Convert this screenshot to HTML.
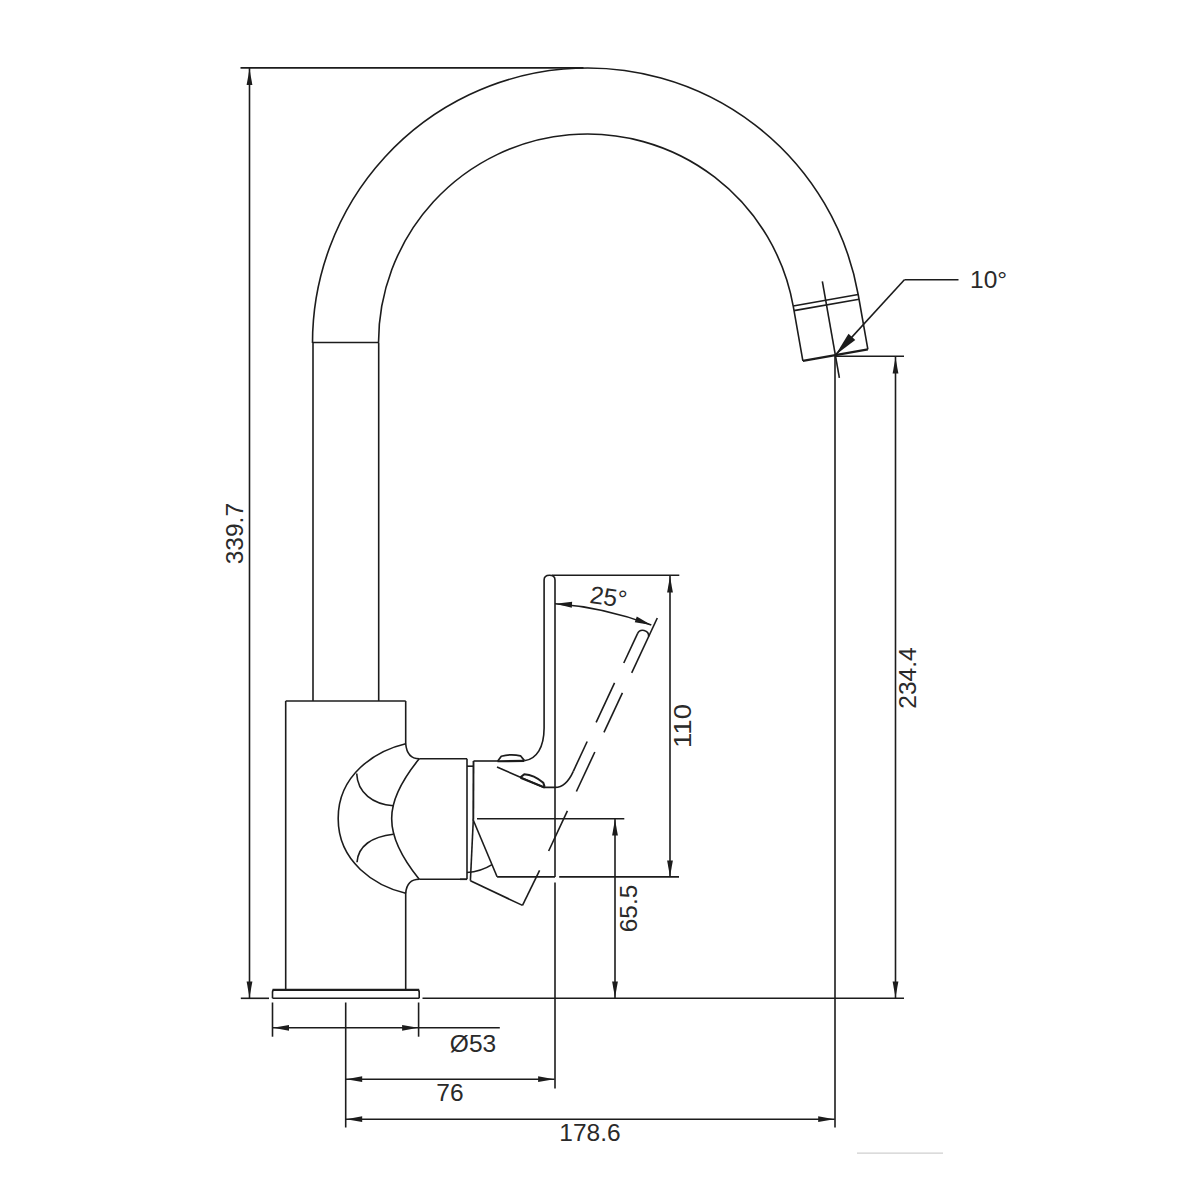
<!DOCTYPE html>
<html><head><meta charset="utf-8"><style>
html,body{margin:0;padding:0;background:#fff;}
svg{display:block;}
text{font-family:"Liberation Sans",sans-serif;fill:#2a2a2a;stroke:none;}
</style></head><body>
<svg width="1200" height="1200" viewBox="0 0 1200 1200">
<rect width="1200" height="1200" fill="#fff"/>
<g stroke="#1c1c1c" stroke-width="1.6" fill="none" stroke-linecap="butt" stroke-linejoin="round">
<line x1="240.50" y1="67.80" x2="583.50" y2="67.80" stroke-width="1.8"/>
<line x1="249.50" y1="68.00" x2="249.50" y2="998.00"/>
<polygon points="249.50,69.00 252.40,85.00 246.60,85.00" fill="#1c1c1c" stroke="none"/>
<polygon points="249.50,997.50 246.60,981.50 252.40,981.50" fill="#1c1c1c" stroke="none"/>
<text x="235.00" y="533.60" font-size="24.5" text-anchor="middle" dominant-baseline="central" transform="rotate(-90 235.00 533.60)">339.7</text>
<path d="M312.50,343.00 A275.0,275.0 0 0 1 858.32,295.25 L867.87,349.41"/>
<path d="M378.50,343.00 A209.0,209.0 0 0 1 793.32,306.71 L802.88,360.87"/>
<line x1="802.88" y1="360.87" x2="867.87" y2="349.41" stroke-width="2.2"/>
<line x1="793.20" y1="306.02" x2="858.20" y2="294.56"/>
<line x1="794.02" y1="310.65" x2="859.02" y2="299.19"/>
<line x1="822.35" y1="281.28" x2="839.37" y2="377.79"/>
<line x1="835.37" y1="355.14" x2="904.40" y2="279.80"/>
<line x1="904.40" y1="279.80" x2="958.50" y2="279.80"/>
<polygon points="835.67,354.64 848.50,333.84 855.28,340.05" fill="#1c1c1c" stroke="none"/>
<text x="970.00" y="279.50" font-size="24.5" text-anchor="start" dominant-baseline="central">10°</text>
<line x1="836.00" y1="356.30" x2="904.00" y2="356.30"/>
<line x1="895.50" y1="356.50" x2="895.50" y2="998.00"/>
<polygon points="895.50,357.50 898.40,373.50 892.60,373.50" fill="#1c1c1c" stroke="none"/>
<polygon points="895.50,997.50 892.60,981.50 898.40,981.50" fill="#1c1c1c" stroke="none"/>
<text x="907.00" y="678.00" font-size="24.5" text-anchor="middle" dominant-baseline="central" transform="rotate(-90 907.00 678.00)">234.4</text>
<line x1="835.00" y1="356.00" x2="835.00" y2="1127.50"/>
<line x1="313.00" y1="342.50" x2="379.00" y2="342.50"/>
<line x1="313.00" y1="343.00" x2="313.00" y2="701.00"/>
<line x1="378.70" y1="343.00" x2="378.70" y2="701.00"/>
<line x1="285.70" y1="701.00" x2="405.70" y2="701.00"/>
<line x1="285.70" y1="701.00" x2="285.70" y2="990.00"/>
<line x1="405.70" y1="701.00" x2="405.70" y2="744.00"/>
<line x1="405.70" y1="892.50" x2="405.70" y2="990.00"/>
<path d="M272.5,998.3 L272.5,992 Q272.5,989.7 275,989.7 L416.7,989.7 Q419.2,989.7 419.2,992 L419.2,998.3" stroke-width="1.6"/>
<line x1="272.50" y1="989.90" x2="419.20" y2="989.90" stroke-width="2.2"/>
<line x1="240.80" y1="998.30" x2="269.00" y2="998.30"/>
<line x1="272.50" y1="998.30" x2="419.20" y2="998.30"/>
<line x1="422.50" y1="998.30" x2="904.00" y2="998.30"/>
<path d="M405.7,743.8 C375,751 338,775 338.2,818.5 C338,862 375,886 405.7,893.2"/>
<path d="M405.7,743.8 C406.5,753 411,758.8 419.2,758.8"/>
<path d="M405.7,893.2 C406.5,884 411,879.3 419.2,879.3"/>
<line x1="419.20" y1="758.80" x2="467.00" y2="758.80"/>
<line x1="419.20" y1="879.30" x2="467.00" y2="879.30"/>
<line x1="467.00" y1="758.80" x2="467.00" y2="879.30"/>
<path d="M419.2,758.8 C402,780 391.5,800 391.7,818.5 C391.5,837 402,858 419.2,879.3"/>
<path d="M356.7,773.5 C357.5,793 373,804 393.3,805.8"/>
<path d="M357,862.3 C358,846 372,836.5 393.3,834.2"/>
<line x1="460.00" y1="879.30" x2="467.00" y2="879.30"/>
<line x1="467.00" y1="766.20" x2="473.30" y2="766.20"/>
<line x1="473.50" y1="761.00" x2="473.30" y2="819.50" stroke-width="1.9"/>
<line x1="473.30" y1="819.50" x2="470.40" y2="880.80"/>
<path d="M467,872.5 C475,872 485,869 492,864.6"/>
<line x1="472.90" y1="819.20" x2="497.10" y2="876.70"/>
<line x1="497.10" y1="876.90" x2="555.00" y2="876.90"/>
<line x1="559.20" y1="876.90" x2="679.00" y2="876.90"/>
<line x1="470.40" y1="880.80" x2="522.50" y2="905.40"/>
<line x1="522.50" y1="905.40" x2="539.60" y2="870.40"/>
<line x1="473.50" y1="761.00" x2="498.00" y2="761.00"/>
<path d="M497.8,761 L501.3,756.2 Q511,753.6 520.5,755.8 L524.4,760.6" stroke-width="1.7"/>
<line x1="497.50" y1="761.30" x2="524.30" y2="760.90" stroke-width="2.1"/>
<path d="M524.3,760.8 C537,759 544,747 544.1,728 L544.1,580 C544.1,576.5 546,575.3 549.5,575.3 C553,575.3 555,576.5 555,580"/>
<line x1="497.00" y1="767.00" x2="544.00" y2="787.40"/>
<path d="M544,787.4 L555,787.4 C562,787.4 568,783 573.3,771.3"/>
<path d="M520.5,777.3 L524.3,774.2 Q534,774.6 543.3,782.8 L544.6,786.8" stroke-width="2.1"/>
<line x1="520.50" y1="777.80" x2="544.60" y2="787.40" stroke-width="2.1"/>
<line x1="657.30" y1="618.00" x2="631.70" y2="672.90"/>
<line x1="622.42" y1="692.80" x2="603.96" y2="732.40"/>
<line x1="594.82" y1="752.00" x2="576.40" y2="791.50"/>
<line x1="567.40" y1="810.80" x2="548.65" y2="851.00"/>
<line x1="637.40" y1="633.80" x2="623.78" y2="663.00"/>
<line x1="614.55" y1="682.80" x2="596.13" y2="722.30"/>
<line x1="587.18" y1="741.50" x2="573.28" y2="771.30"/>
<path d="M637.40,633.8 A5.9,5.9 0 0 1 648.67,636.5"/>
<path d="M555,603.8 Q603,607 651.3,625"/>
<polygon points="555.50,603.80 572.15,601.79 571.79,607.78" fill="#1c1c1c" stroke="none"/>
<polygon points="651.30,625.00 634.76,622.23 636.79,616.59" fill="#1c1c1c" stroke="none"/>
<text x="608.50" y="597.00" font-size="24.5" text-anchor="middle" dominant-baseline="central" transform="rotate(8 608.50 597.00)">25°</text>
<line x1="552.00" y1="575.30" x2="679.30" y2="575.30"/>
<line x1="555.00" y1="580.00" x2="555.00" y2="877.00"/>
<line x1="555.00" y1="882.50" x2="555.00" y2="1088.50"/>
<line x1="670.00" y1="576.00" x2="670.00" y2="876.50"/>
<polygon points="670.00,576.50 672.90,592.50 667.10,592.50" fill="#1c1c1c" stroke="none"/>
<polygon points="670.00,876.50 667.10,860.50 672.90,860.50" fill="#1c1c1c" stroke="none"/>
<text x="682.00" y="726.00" font-size="24.5" text-anchor="middle" dominant-baseline="central" textLength="44" lengthAdjust="spacingAndGlyphs" transform="rotate(-90 682.00 726.00)">110</text>
<line x1="477.00" y1="818.80" x2="624.30" y2="818.80"/>
<line x1="615.00" y1="819.00" x2="615.00" y2="998.00"/>
<polygon points="615.00,819.50 617.90,835.50 612.10,835.50" fill="#1c1c1c" stroke="none"/>
<polygon points="615.00,997.50 612.10,981.50 617.90,981.50" fill="#1c1c1c" stroke="none"/>
<text x="628.00" y="908.50" font-size="24.5" text-anchor="middle" dominant-baseline="central" transform="rotate(-90 628.00 908.50)">65.5</text>
<line x1="272.50" y1="1002.50" x2="272.50" y2="1036.70"/>
<line x1="418.60" y1="1002.50" x2="418.60" y2="1036.70"/>
<line x1="272.50" y1="1027.80" x2="499.80" y2="1027.80"/>
<polygon points="273.00,1027.80 289.00,1024.90 289.00,1030.70" fill="#1c1c1c" stroke="none"/>
<polygon points="418.10,1027.80 402.10,1030.70 402.10,1024.90" fill="#1c1c1c" stroke="none"/>
<text x="473.00" y="1043.00" font-size="24.5" text-anchor="middle" dominant-baseline="central">Ø53</text>
<line x1="345.70" y1="1002.50" x2="345.70" y2="1127.50"/>
<line x1="345.70" y1="1079.20" x2="554.60" y2="1079.20"/>
<polygon points="346.20,1079.20 362.20,1076.30 362.20,1082.10" fill="#1c1c1c" stroke="none"/>
<polygon points="554.10,1079.20 538.10,1082.10 538.10,1076.30" fill="#1c1c1c" stroke="none"/>
<text x="450.00" y="1092.50" font-size="24.5" text-anchor="middle" dominant-baseline="central">76</text>
<line x1="345.70" y1="1119.20" x2="834.70" y2="1119.20"/>
<polygon points="346.20,1119.20 362.20,1116.30 362.20,1122.10" fill="#1c1c1c" stroke="none"/>
<polygon points="834.20,1119.20 818.20,1122.10 818.20,1116.30" fill="#1c1c1c" stroke="none"/>
<text x="590.00" y="1132.50" font-size="24.5" text-anchor="middle" dominant-baseline="central">178.6</text>
<line x1="857.00" y1="1153.20" x2="943.00" y2="1153.20" stroke-width="1.3" stroke="#cfcfcf"/>
</g>
</svg>
</body></html>
